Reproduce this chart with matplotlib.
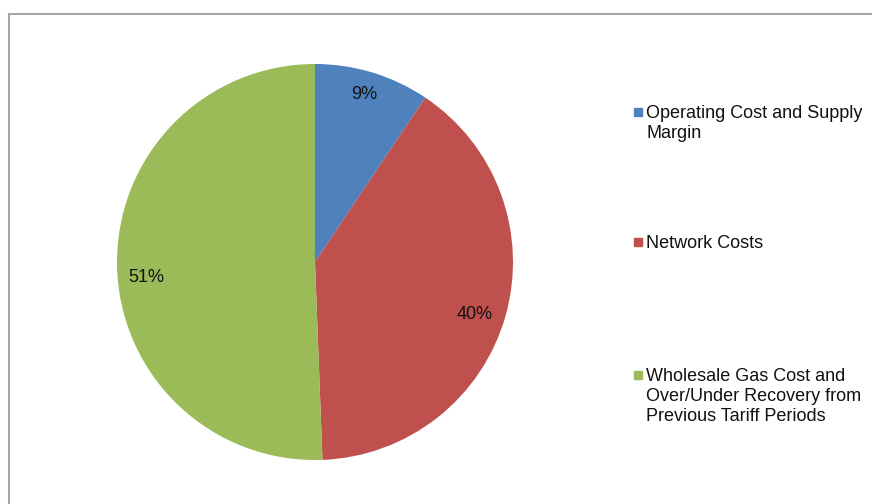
import matplotlib.pyplot as plt
from matplotlib.patches import Rectangle

plt.rcParams['font.family'] = ['Liberation Sans', 'DejaVu Sans']

labels = ['Operating Cost and Supply\nMargin',
          'Network Costs',
          'Wholesale Gas Cost and\nOver/Under Recovery from\nPrevious Tariff Periods']
shares = [9.4, 40.0, 50.6]
colors = ['#4F81BD', '#C0504D', '#9BBB59']
legend_y = [112, 242, 375]  # pixel rows of the first text line
# where the percentage labels sit (in pie radius units), like Excel puts them
pct_pos = [(0.247, 0.845), (0.808, -0.263), (-0.854, -0.076)]

W, H = 872, 504
fig = plt.figure(figsize=(W / 100, H / 100), dpi=100)

# chart frame (cut off at right and bottom)
fig.patches.append(Rectangle((9 / W, -0.1), 1.2, (H - 14) / H + 0.1,
                             transform=fig.transFigure, fill=False,
                             edgecolor='#A6A6A6', linewidth=1.5))

cx, cy, r = 315, 262, 198
ax = fig.add_axes([(cx - r) / W, (H - cy - r) / H, 2 * r / W, 2 * r / H])
wedges, texts, autotexts = ax.pie(shares, colors=colors, startangle=90,
                                  counterclock=False, autopct='%.0f%%',
                                  textprops={'fontsize': 13, 'color': '#111111'})
for t, p in zip(autotexts, pct_pos):
    t.set_position(p)
ax.set_xlim(-1, 1)
ax.set_ylim(-1, 1)
ax.axis('off')

for lab, col, y in zip(labels, colors, legend_y):
    fig.patches.append(Rectangle((634 / W, 1 - (y + 4) / H), 8 / W, 8 / H,
                                 transform=fig.transFigure, color=col))
    fig.text(646 / W, 1 - (y - 7) / H, lab, fontsize=13, va='top', ha='left',
             color='#111111', linespacing=1.22)

fig.savefig('out.png', dpi=100)
